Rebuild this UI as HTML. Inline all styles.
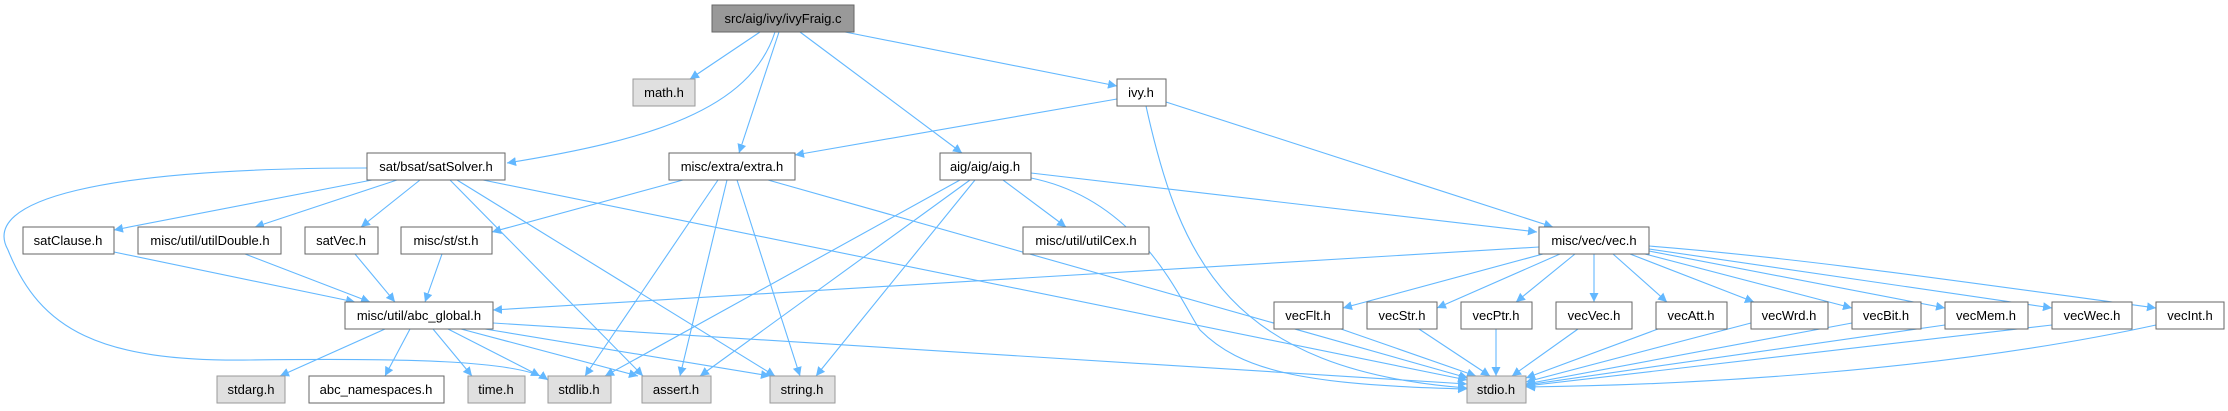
<!DOCTYPE html>
<html><head><meta charset="utf-8"><style>
body{margin:0;background:#fff;width:2228px;height:411px;overflow:hidden}
svg{display:block}
text{font-family:"Liberation Sans",Arial,sans-serif;font-size:13px;fill:#000;text-anchor:middle}
.n{fill:#fff;stroke:#666;stroke-width:1}
.g{fill:#e0e0e0;stroke:#999;stroke-width:1}
.e path{fill:none;stroke:#63b8ff;stroke-width:1.1;marker-end:url(#a)}
</style></head><body>
<svg width="2228" height="411" viewBox="0 0 2228 411">
<defs><marker id="a" viewBox="0 0 10 10" refX="10" refY="5" markerWidth="9" markerHeight="9" markerUnits="userSpaceOnUse" orient="auto"><path d="M0,0L10,5L0,10z" fill="#63b8ff"/></marker></defs>
<g class="e">
<path d="M760,32L690,79"/>
<path d="M775,32C750,110 650,140 507,163"/>
<path d="M779,32L739,153"/>
<path d="M800,32L962,153"/>
<path d="M845,32L1117,86"/>
<path d="M1117,99L795,155"/>
<path d="M1166,102L1553,227"/>
<path d="M1146,106C1180,260 1230,370 1467,388"/>
<path d="M367,168C100,168 -20,200 8,250C40,330 100,362 250,360C400,358 520,360 548,380"/>
<path d="M372,180L114,230"/>
<path d="M397,180L255,227"/>
<path d="M420,180L361,227"/>
<path d="M450,180L643,376"/>
<path d="M457,180L775,376"/>
<path d="M483,180L1467,380"/>
<path d="M683,180L492,232"/>
<path d="M718,180L585,376"/>
<path d="M727,180L680,376"/>
<path d="M737,180L800,376"/>
<path d="M768,180L1468,378"/>
<path d="M960,180L605,376"/>
<path d="M970,180L700,376"/>
<path d="M975,180L816,376"/>
<path d="M1003,180L1066,227"/>
<path d="M1031,173L1537,232"/>
<path d="M1031,178C1140,200 1180,300 1200,330C1240,370 1300,385 1467,389"/>
<path d="M1539,247L493,310"/>
<path d="M114,252L355,302"/>
<path d="M245,254L370,302"/>
<path d="M355,254L395,302"/>
<path d="M442,254L425,302"/>
<path d="M385,329L280,376"/>
<path d="M410,329L385,376"/>
<path d="M433,329L472,376"/>
<path d="M448,329L540,376"/>
<path d="M461,329L638,376"/>
<path d="M485,329L770,376"/>
<path d="M493,323L1467,384"/>
<path d="M1543,254L1343,308"/>
<path d="M1560,254L1437,308"/>
<path d="M1575,254L1516,302"/>
<path d="M1594,254L1594,302"/>
<path d="M1613,254L1667,302"/>
<path d="M1630,254L1754,302"/>
<path d="M1645,254L1852,308"/>
<path d="M1649,251L1945,308"/>
<path d="M1649,249L2052,308"/>
<path d="M1649,246C1800,258 1950,280 2156,308"/>
<path d="M1341,329L1476,376"/>
<path d="M1419,329L1490,376"/>
<path d="M1496,329L1496,376"/>
<path d="M1578,329L1512,376"/>
<path d="M1658,329L1526,378"/>
<path d="M1751,323L1526,382"/>
<path d="M1852,323L1526,384"/>
<path d="M1945,325L1526,385"/>
<path d="M2052,325L1526,386"/>
<path d="M2156,325C1950,370 1700,385 1526,387"/>
</g>
<rect x="712" y="5" width="142" height="27" fill="#999" stroke="#666"/><text x="783" y="23">src/aig/ivy/ivyFraig.c</text>
<rect class="g" x="633" y="79" width="62" height="27"/><text x="664" y="97">math.h</text>
<rect class="n" x="1117" y="79" width="49" height="27"/><text x="1141" y="97">ivy.h</text>
<rect class="n" x="367" y="153" width="138" height="27"/><text x="436" y="171">sat/bsat/satSolver.h</text>
<rect class="n" x="669" y="153" width="126" height="27"/><text x="732" y="171">misc/extra/extra.h</text>
<rect class="n" x="940" y="153" width="91" height="27"/><text x="985" y="171">aig/aig/aig.h</text>
<rect class="n" x="23" y="227" width="91" height="27"/><text x="68" y="245">satClause.h</text>
<rect class="n" x="138" y="227" width="143" height="27"/><text x="210" y="245">misc/util/utilDouble.h</text>
<rect class="n" x="305" y="227" width="73" height="27"/><text x="341" y="245">satVec.h</text>
<rect class="n" x="401" y="227" width="91" height="27"/><text x="446" y="245">misc/st/st.h</text>
<rect class="n" x="1023" y="227" width="126" height="27"/><text x="1086" y="245">misc/util/utilCex.h</text>
<rect class="n" x="1539" y="227" width="110" height="27"/><text x="1594" y="245">misc/vec/vec.h</text>
<rect class="n" x="345" y="302" width="148" height="27"/><text x="419" y="320">misc/util/abc_global.h</text>
<rect class="g" x="217" y="376" width="68" height="27"/><text x="251" y="394">stdarg.h</text>
<rect class="n" x="309" y="376" width="135" height="27"/><text x="376" y="394">abc_namespaces.h</text>
<rect class="g" x="468" y="376" width="57" height="27"/><text x="496" y="394">time.h</text>
<rect class="g" x="548" y="376" width="63" height="27"/><text x="579" y="394">stdlib.h</text>
<rect class="g" x="642" y="376" width="69" height="27"/><text x="676" y="394">assert.h</text>
<rect class="g" x="770" y="376" width="65" height="27"/><text x="802" y="394">string.h</text>
<rect class="g" x="1467" y="376" width="59" height="27"/><text x="1496" y="394">stdio.h</text>
<rect class="n" x="1274" y="302" width="69" height="27"/><text x="1308" y="320">vecFlt.h</text>
<rect class="n" x="1367" y="302" width="70" height="27"/><text x="1402" y="320">vecStr.h</text>
<rect class="n" x="1461" y="302" width="71" height="27"/><text x="1496" y="320">vecPtr.h</text>
<rect class="n" x="1556" y="302" width="76" height="27"/><text x="1594" y="320">vecVec.h</text>
<rect class="n" x="1656" y="302" width="71" height="27"/><text x="1691" y="320">vecAtt.h</text>
<rect class="n" x="1751" y="302" width="77" height="27"/><text x="1789" y="320">vecWrd.h</text>
<rect class="n" x="1852" y="302" width="69" height="27"/><text x="1886" y="320">vecBit.h</text>
<rect class="n" x="1945" y="302" width="83" height="27"/><text x="1986" y="320">vecMem.h</text>
<rect class="n" x="2052" y="302" width="80" height="27"/><text x="2092" y="320">vecWec.h</text>
<rect class="n" x="2156" y="302" width="68" height="27"/><text x="2190" y="320">vecInt.h</text>
</svg>
</body></html>
